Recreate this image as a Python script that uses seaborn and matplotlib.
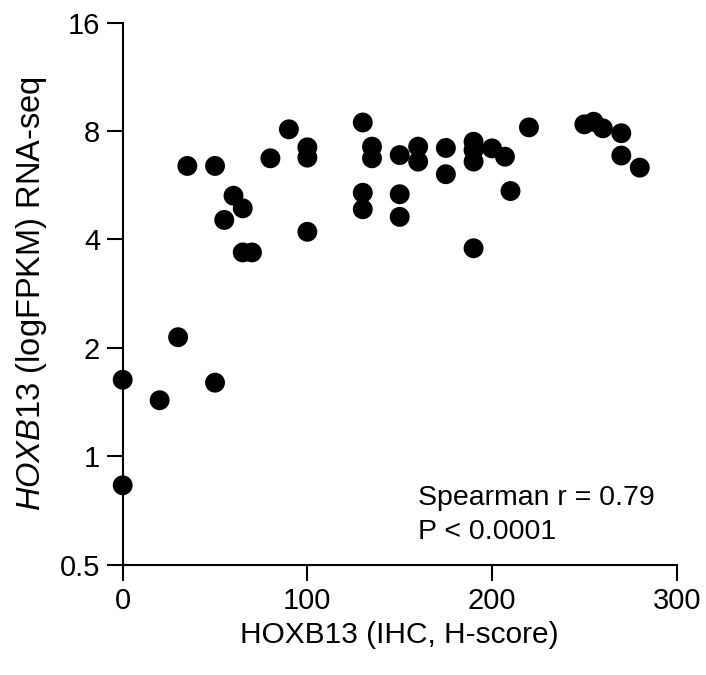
import matplotlib
matplotlib.use("Agg")
import matplotlib.pyplot as plt
import seaborn as sns
import pandas as pd
from matplotlib.ticker import FixedLocator, FixedFormatter, NullLocator

h_score = [0, 0, 20, 30, 50,
           35, 50, 55, 60, 65, 65, 70, 80, 90, 100, 100, 100,
           130, 130, 130, 135, 135,
           150, 150, 150, 160, 160, 175, 175, 190, 190, 190, 190,
           200, 207, 210, 220, 250, 255, 260, 270, 270, 280]
fpkm = [1.63, 0.83, 1.43, 2.14, 1.60,
        6.40, 6.40, 4.53, 5.29, 4.88, 3.68, 3.68, 6.72, 8.09, 7.21, 6.75, 4.20,
        8.45, 5.39, 4.85, 7.24, 6.72,
        6.86, 5.34, 4.62, 7.24, 6.58, 7.18, 6.07, 7.47, 7.08, 6.58, 3.78,
        7.16, 6.79, 5.45, 8.19, 8.35, 8.49, 8.14, 7.89, 6.84, 6.33]

y_ticks = [0.5, 1, 2, 4, 8, 16]
y_tick_labels = ["0.5", "1", "2", "4", "8", "16"]
x_ticks = [0, 100, 200, 300]

df = pd.DataFrame({"x": h_score, "y": fpkm})

sns.set_style("ticks")
plt.rcParams["font.family"] = ["Liberation Sans", "DejaVu Sans"]
plt.rcParams["mathtext.fontset"] = "custom"
plt.rcParams["mathtext.it"] = "Liberation Sans:italic"
plt.rcParams["mathtext.rm"] = "Liberation Sans"
plt.rcParams["text.color"] = "black"
plt.rcParams["axes.labelcolor"] = "black"
plt.rcParams["xtick.color"] = "black"
plt.rcParams["ytick.color"] = "black"

fig = plt.figure(figsize=(7.06, 6.75), dpi=100)
ax = fig.add_axes([0.1738, 0.1637, 0.9585 - 0.1738, 0.9664 - 0.1637])

sns.scatterplot(data=df, x="x", y="y", ax=ax, color="black", s=205,
                edgecolor="none", linewidth=0, clip_on=False, zorder=3)

ax.set_yscale("log", base=2)
ax.set_ylim(0.5, 16)
ax.set_xlim(0, 300)
ax.yaxis.set_major_locator(FixedLocator(y_ticks))
ax.yaxis.set_major_formatter(FixedFormatter(y_tick_labels))
ax.yaxis.set_minor_locator(NullLocator())
ax.set_xticks(x_ticks)
ax.set_xticklabels([str(t) for t in x_ticks])

for side in ["top", "right"]:
    ax.spines[side].set_visible(False)
for side in ["left", "bottom"]:
    ax.spines[side].set_linewidth(1.5)
    ax.spines[side].set_color("black")

ax.tick_params(axis="both", direction="out", length=11.3, width=1.5,
               labelsize=21, pad=5, color="black", labelcolor="black")

ax.set_xlabel("HOXB13 (IHC, H-score)", fontsize=21.5, labelpad=4, color="black")
ax.set_ylabel(r"$\it{HOXB13}$ (logFPKM) RNA-seq", fontsize=23.5, labelpad=8,
              color="black")

ax.text(160, 0.73, "Spearman r = 0.79", fontsize=20.5, va="baseline",
        ha="left", color="black")
ax.text(160, 0.588, "P < 0.0001", fontsize=20.5, va="baseline",
        ha="left", color="black")

fig.savefig("out.png", dpi=100)
